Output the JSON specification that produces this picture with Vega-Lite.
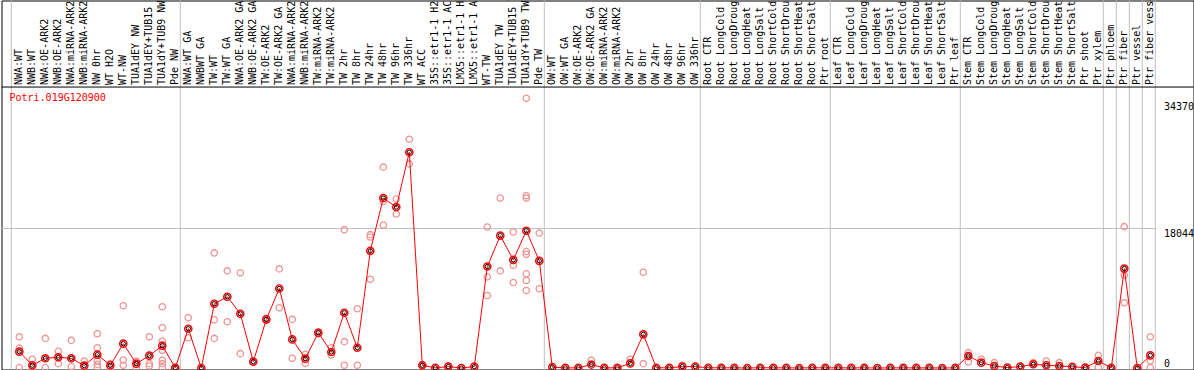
{
  "$schema": "https://vega.github.io/schema/vega-lite/v6.json",
  "width": 1192,
  "height": 369,
  "autosize": {"type": "none"},
  "padding": {"left": 1.5, "top": 0.5, "right": 0, "bottom": 0},
  "background": "white",
  "config": {"view": {"stroke": "black", "strokeWidth": 1}, "font": "DejaVu Sans Mono"},
  "title": {"text": "Potri.019G120900", "orient": "bottom", "anchor": "start", "frame": "group", "offset": -273, "dx": 8, "baseline": "alphabetic", "color": "red", "font": "DejaVu Sans Mono", "fontSize": 10, "fontWeight": "normal"},
  "datasets": {
    "means": [
      {"cond": "00|NWA:WT", "value": 2150},
      {"cond": "01|NWB:WT", "value": 390},
      {"cond": "02|NWA:OE-ARK2", "value": 1290},
      {"cond": "03|NWB:OE-ARK2", "value": 1420},
      {"cond": "04|NWA:miRNA-ARK2", "value": 1290},
      {"cond": "05|NWB:miRNA-ARK2", "value": 350},
      {"cond": "06|NW 0hr", "value": 1760},
      {"cond": "07|WT H2O", "value": 390},
      {"cond": "08|WT-NW", "value": 3180},
      {"cond": "09|TUA1dEY NW", "value": 600},
      {"cond": "10|TUA1dEY+TUB15 NW", "value": 1630},
      {"cond": "11|TUA1dY+TUB9 NW", "value": 2920},
      {"cond": "12|Pde NW", "value": 60},
      {"cond": "13|NWA:WT GA", "value": 5110},
      {"cond": "14|NWBWT GA", "value": 40},
      {"cond": "15|TW:WT", "value": 8330},
      {"cond": "16|TW:WT GA", "value": 9230},
      {"cond": "17|NWA:OE-ARK2 GA", "value": 7040},
      {"cond": "18|NWB:OE-ARK2 GA", "value": 860},
      {"cond": "19|TW:OE-ARK2", "value": 6310},
      {"cond": "20|TW:OE-ARK2 GA", "value": 10300},
      {"cond": "21|NWA:miRNA-ARK2", "value": 3730},
      {"cond": "22|NWB:miRNA-ARK2", "value": 1250},
      {"cond": "23|TW:miRNA-ARK2", "value": 4590},
      {"cond": "24|TW:miRNA-ARK2", "value": 2100},
      {"cond": "25|TW 2hr", "value": 7170},
      {"cond": "26|TW 8hr", "value": 2660},
      {"cond": "27|TW 24hr", "value": 15150},
      {"cond": "28|TW 48hr", "value": 21970},
      {"cond": "29|TW 96hr", "value": 20810},
      {"cond": "30|TW 336hr", "value": 27890},
      {"cond": "31|WT ACC", "value": 390},
      {"cond": "32|35S::etr1-1 H2O", "value": 60},
      {"cond": "33|35S::etr1-1 ACC", "value": 220},
      {"cond": "34|LMX5::etr1-1 H2O", "value": 40},
      {"cond": "35|LMX5::etr1-1 ACC", "value": 220},
      {"cond": "36|WT-TW", "value": 13130},
      {"cond": "37|TUA1dEY TW", "value": 17120},
      {"cond": "38|TUA1dEY+TUB15 TW", "value": 13990},
      {"cond": "39|TUA1dY+TUB9 TW", "value": 17760},
      {"cond": "40|Pde TW", "value": 13860},
      {"cond": "41|OW:WT", "value": 150},
      {"cond": "42|OW:WT GA", "value": 50},
      {"cond": "43|OW:OE-ARK2", "value": 60},
      {"cond": "44|OW:OE-ARK2 GA", "value": 480},
      {"cond": "45|OW:miRNA-ARK2", "value": 60},
      {"cond": "46|OW:miRNA-ARK2", "value": 60},
      {"cond": "47|OW 2hr", "value": 640},
      {"cond": "48|OW 8hr", "value": 4380},
      {"cond": "49|OW 24hr", "value": 70},
      {"cond": "50|OW 48hr", "value": 60},
      {"cond": "51|OW 96hr", "value": 220},
      {"cond": "52|OW 336hr", "value": 220},
      {"cond": "53|Root CTR", "value": 70},
      {"cond": "54|Root LongCold", "value": 60},
      {"cond": "55|Root LongDrought", "value": 60},
      {"cond": "56|Root LongHeat", "value": 40},
      {"cond": "57|Root LongSalt", "value": 70},
      {"cond": "58|Root ShortCold", "value": 60},
      {"cond": "59|Root ShortDrought", "value": 60},
      {"cond": "60|Root ShortHeat", "value": 40},
      {"cond": "61|Root ShortSalt", "value": 70},
      {"cond": "62|Ptr root", "value": 60},
      {"cond": "63|Leaf CTR", "value": 60},
      {"cond": "64|Leaf LongCold", "value": 50},
      {"cond": "65|Leaf LongDrought", "value": 60},
      {"cond": "66|Leaf LongHeat", "value": 40},
      {"cond": "67|Leaf LongSalt", "value": 50},
      {"cond": "68|Leaf ShortCold", "value": 60},
      {"cond": "69|Leaf ShortDrought", "value": 50},
      {"cond": "70|Leaf ShortHeat", "value": 50},
      {"cond": "71|Leaf ShortSalt", "value": 40},
      {"cond": "72|Ptr leaf", "value": 60},
      {"cond": "73|Stem CTR", "value": 1580},
      {"cond": "74|Stem LongCold", "value": 730},
      {"cond": "75|Stem LongDrought", "value": 300},
      {"cond": "76|Stem LongHeat", "value": 90},
      {"cond": "77|Stem LongSalt", "value": 220},
      {"cond": "78|Stem ShortCold", "value": 515},
      {"cond": "79|Stem ShortDrought", "value": 390},
      {"cond": "80|Stem ShortHeat", "value": 300},
      {"cond": "81|Stem ShortSalt", "value": 200},
      {"cond": "82|Ptr shoot", "value": 90},
      {"cond": "83|Ptr xylem", "value": 940},
      {"cond": "84|Ptr phloem", "value": 60},
      {"cond": "85|Ptr fiber", "value": 12870},
      {"cond": "86|Ptr vessel", "value": 40},
      {"cond": "87|Ptr fiber vessel", "value": 1670}
    ],
    "reps": [
      {"cond": "00|NWA:WT", "value": 4080}, {"cond": "00|NWA:WT", "value": 2610}, {"cond": "00|NWA:WT", "value": 90},
      {"cond": "01|NWB:WT", "value": 1160}, {"cond": "01|NWB:WT", "value": 90},
      {"cond": "02|NWA:OE-ARK2", "value": 3860}, {"cond": "02|NWA:OE-ARK2", "value": 90},
      {"cond": "03|NWB:OE-ARK2", "value": 2190}, {"cond": "03|NWB:OE-ARK2", "value": 600},
      {"cond": "04|NWA:miRNA-ARK2", "value": 3600}, {"cond": "04|NWA:miRNA-ARK2", "value": 220},
      {"cond": "05|NWB:miRNA-ARK2", "value": 940}, {"cond": "05|NWB:miRNA-ARK2", "value": 220},
      {"cond": "06|NW 0hr", "value": 4460}, {"cond": "06|NW 0hr", "value": 2660}, {"cond": "06|NW 0hr", "value": 940}, {"cond": "06|NW 0hr", "value": 500}, {"cond": "06|NW 0hr", "value": 150},
      {"cond": "07|WT H2O", "value": 600}, {"cond": "07|WT H2O", "value": 90},
      {"cond": "08|WT-NW", "value": 8070}, {"cond": "08|WT-NW", "value": 1070}, {"cond": "08|WT-NW", "value": 390},
      {"cond": "09|TUA1dEY NW", "value": 940}, {"cond": "09|TUA1dEY NW", "value": 500}, {"cond": "09|TUA1dEY NW", "value": 90},
      {"cond": "10|TUA1dEY+TUB15 NW", "value": 4080}, {"cond": "10|TUA1dEY+TUB15 NW", "value": 600}, {"cond": "10|TUA1dEY+TUB15 NW", "value": 300},
      {"cond": "11|TUA1dY+TUB9 NW", "value": 7940}, {"cond": "11|TUA1dY+TUB9 NW", "value": 5240}, {"cond": "11|TUA1dY+TUB9 NW", "value": 3520}, {"cond": "11|TUA1dY+TUB9 NW", "value": 2320}, {"cond": "11|TUA1dY+TUB9 NW", "value": 1030}, {"cond": "11|TUA1dY+TUB9 NW", "value": 600}, {"cond": "11|TUA1dY+TUB9 NW", "value": 90},
      {"cond": "12|Pde NW", "value": 90},
      {"cond": "13|NWA:WT GA", "value": 6520}, {"cond": "13|NWA:WT GA", "value": 3950},
      {"cond": "15|TW:WT", "value": 14890}, {"cond": "15|TW:WT", "value": 6270}, {"cond": "15|TW:WT", "value": 3860},
      {"cond": "16|TW:WT GA", "value": 12570}, {"cond": "16|TW:WT GA", "value": 6010},
      {"cond": "17|NWA:OE-ARK2 GA", "value": 12320}, {"cond": "17|NWA:OE-ARK2 GA", "value": 1890},
      {"cond": "18|NWB:OE-ARK2 GA", "value": 860},
      {"cond": "19|TW:OE-ARK2", "value": 6440}, {"cond": "19|TW:OE-ARK2", "value": 6180},
      {"cond": "20|TW:OE-ARK2 GA", "value": 12830}, {"cond": "20|TW:OE-ARK2 GA", "value": 7810},
      {"cond": "21|NWA:miRNA-ARK2", "value": 6310}, {"cond": "21|NWA:miRNA-ARK2", "value": 1290},
      {"cond": "22|NWB:miRNA-ARK2", "value": 1800}, {"cond": "22|NWB:miRNA-ARK2", "value": 640},
      {"cond": "23|TW:miRNA-ARK2", "value": 4720}, {"cond": "23|TW:miRNA-ARK2", "value": 4450},
      {"cond": "24|TW:miRNA-ARK2", "value": 2660}, {"cond": "24|TW:miRNA-ARK2", "value": 1720},
      {"cond": "25|TW 2hr", "value": 17890}, {"cond": "25|TW 2hr", "value": 3440}, {"cond": "25|TW 2hr", "value": 390},
      {"cond": "26|TW 8hr", "value": 7680}, {"cond": "26|TW 8hr", "value": 390},
      {"cond": "27|TW 24hr", "value": 17250}, {"cond": "27|TW 24hr", "value": 16950}, {"cond": "27|TW 24hr", "value": 11490},
      {"cond": "28|TW 48hr", "value": 25960}, {"cond": "28|TW 48hr", "value": 21530}, {"cond": "28|TW 48hr", "value": 18490},
      {"cond": "29|TW 96hr", "value": 21840}, {"cond": "29|TW 96hr", "value": 19910},
      {"cond": "30|TW 336hr", "value": 29560}, {"cond": "30|TW 336hr", "value": 26380},
      {"cond": "31|WT ACC", "value": 390},
      {"cond": "33|35S::etr1-1 ACC", "value": 300},
      {"cond": "36|WT-TW", "value": 18240}, {"cond": "36|WT-TW", "value": 11800}, {"cond": "36|WT-TW", "value": 9400},
      {"cond": "37|TUA1dEY TW", "value": 21970}, {"cond": "37|TUA1dEY TW", "value": 12570},
      {"cond": "38|TUA1dEY+TUB15 TW", "value": 17590}, {"cond": "38|TUA1dEY+TUB15 TW", "value": 13300}, {"cond": "38|TUA1dEY+TUB15 TW", "value": 11070},
      {"cond": "39|TUA1dY+TUB9 TW", "value": 34840}, {"cond": "39|TUA1dY+TUB9 TW", "value": 22270}, {"cond": "39|TUA1dY+TUB9 TW", "value": 21970}, {"cond": "39|TUA1dY+TUB9 TW", "value": 15060}, {"cond": "39|TUA1dY+TUB9 TW", "value": 14710}, {"cond": "39|TUA1dY+TUB9 TW", "value": 12190}, {"cond": "39|TUA1dY+TUB9 TW", "value": 11330}, {"cond": "39|TUA1dY+TUB9 TW", "value": 10040},
      {"cond": "40|Pde TW", "value": 17460}, {"cond": "40|Pde TW", "value": 10260},
      {"cond": "44|OW:OE-ARK2 GA", "value": 1030},
      {"cond": "47|OW 2hr", "value": 1160},
      {"cond": "48|OW 8hr", "value": 12400}, {"cond": "48|OW 8hr", "value": 600},
      {"cond": "51|OW 96hr", "value": 400},
      {"cond": "73|Stem CTR", "value": 2020}, {"cond": "73|Stem CTR", "value": 810},
      {"cond": "74|Stem LongCold", "value": 1160},
      {"cond": "75|Stem LongDrought", "value": 730},
      {"cond": "78|Stem ShortCold", "value": 730},
      {"cond": "79|Stem ShortDrought", "value": 940},
      {"cond": "80|Stem ShortHeat", "value": 730},
      {"cond": "83|Ptr xylem", "value": 1670}, {"cond": "83|Ptr xylem", "value": 150},
      {"cond": "85|Ptr fiber", "value": 18280}, {"cond": "85|Ptr fiber", "value": 12010}, {"cond": "85|Ptr fiber", "value": 8460},
      {"cond": "87|Ptr fiber vessel", "value": 4080}, {"cond": "87|Ptr fiber vessel", "value": 940}, {"cond": "87|Ptr fiber vessel", "value": 90}
    ],
    "groupStarts": [
      {"cond": "00|NWA:WT"}, {"cond": "13|NWA:WT GA"}, {"cond": "41|OW:WT"}, {"cond": "53|Root CTR"},
      {"cond": "63|Leaf CTR"}, {"cond": "73|Stem CTR"}, {"cond": "84|Ptr phloem"}, {"cond": "85|Ptr fiber"},
      {"cond": "86|Ptr vessel"}, {"cond": "87|Ptr fiber vessel"}
    ],
    "groupEnds": [{"cond": "87|Ptr fiber vessel"}],
    "hlines": [{"level": 18044}],
    "frameLine": [{"level": 36300}]
  },
  "layer": [
    {
      "data": {"name": "groupStarts"},
      "mark": {"type": "rule", "color": "#c0c0c0", "strokeWidth": 1, "xOffset": -1.5},
      "encoding": {
        "x": {
          "field": "cond", "type": "nominal", "bandPosition": 0,
          "scale": {"type": "band", "paddingInner": 0, "paddingOuter": 0, "range": [11.3, 1155.3]},
          "axis": {
            "orient": "top", "title": null, "labelAngle": -90, "labelAlign": "left", "labelBaseline": "middle",
            "labelPadding": -84, "ticks": false, "tickSize": 0, "domain": false, "grid": false,
            "labelFont": "DejaVu Sans Mono", "labelFontSize": 10, "labelColor": "black",
            "labelOverlap": false, "labelLimit": 0, "labelBound": false,
            "labelExpr": "split(datum.label, '|')[1]"
          }
        }
      }
    },
    {
      "data": {"name": "groupEnds"},
      "mark": {"type": "rule", "color": "#c0c0c0", "strokeWidth": 1, "xOffset": -1.5},
      "encoding": {
        "x": {"field": "cond", "type": "nominal", "bandPosition": 1}
      }
    },
    {
      "data": {"name": "hlines"},
      "mark": {"type": "rule", "color": "#c0c0c0", "strokeWidth": 1, "xOffset": -12, "x2Offset": 5},
      "encoding": {
        "x": {"datum": "00|NWA:WT", "type": "nominal", "bandPosition": 0},
        "x2": {"datum": "87|Ptr fiber vessel"},
        "y": {"field": "level", "type": "quantitative",
          "scale": {"domain": [-155, 47470], "nice": false, "zero": false},
          "axis": {
            "orient": "right", "title": null, "values": [0, 18044, 34370], "format": "d",
            "grid": false, "ticks": false, "tickSize": 0, "domain": false,
            "labelPadding": -30, "labelAlign": "left",
            "labelBaseline": {"condition": {"test": "datum.value == 0", "value": "bottom"}, "value": "top"},
            "labelFont": "DejaVu Sans Mono", "labelFontSize": 10, "labelColor": "black", "labelFlush": false
          }
        }
      }
    },
    {
      "data": {"name": "frameLine"},
      "mark": {"type": "rule", "color": "black", "strokeWidth": 1},
      "encoding": {
        "y": {"field": "level", "type": "quantitative"}
      }
    },
    {
      "data": {"name": "reps"},
      "mark": {"type": "point", "shape": "circle", "filled": false, "color": "#ee9494", "size": 40, "strokeWidth": 1.3, "opacity": 1},
      "encoding": {
        "x": {"field": "cond", "type": "nominal"},
        "y": {"field": "value", "type": "quantitative"}
      }
    },
    {
      "data": {"name": "means"},
      "mark": {"type": "line", "color": "red", "strokeWidth": 1},
      "encoding": {
        "x": {"field": "cond", "type": "nominal"},
        "y": {"field": "value", "type": "quantitative"}
      }
    },
    {
      "data": {"name": "means"},
      "mark": {"type": "point", "shape": "circle", "filled": false, "color": "red", "size": 52, "strokeWidth": 1.4, "opacity": 1},
      "encoding": {
        "x": {"field": "cond", "type": "nominal"},
        "y": {"field": "value", "type": "quantitative"}
      }
    },
    {
      "data": {"name": "means"},
      "mark": {"type": "point", "shape": "circle", "filled": false, "color": "black", "size": 18, "strokeWidth": 1, "opacity": 1},
      "encoding": {
        "x": {"field": "cond", "type": "nominal"},
        "y": {"field": "value", "type": "quantitative"}
      }
    }
  ]
}
